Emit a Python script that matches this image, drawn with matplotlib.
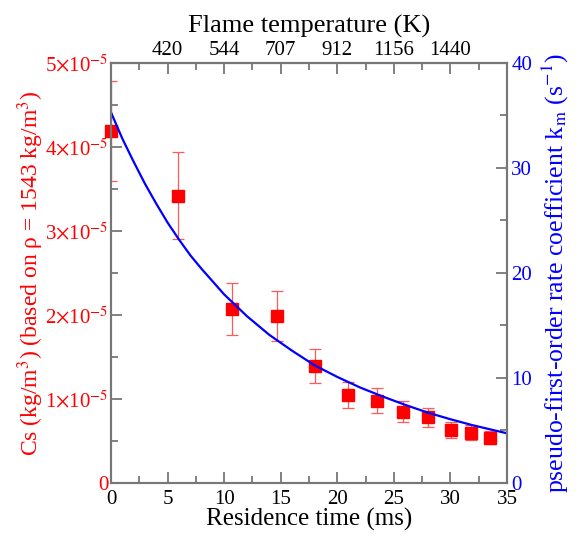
import matplotlib
matplotlib.use("Agg")
import matplotlib.pyplot as plt
from matplotlib.ticker import MultipleLocator, FixedLocator, FixedFormatter

plt.rcParams['font.family'] = ['Liberation Serif', 'DejaVu Serif']
plt.rcParams['mathtext.fontset'] = 'stix'

# measured Cs (kg/m^3) vs residence time (ms)
res_time = [0.0, 5.9, 10.7, 14.65, 18.0, 20.95, 23.5, 25.85, 28.0, 30.05, 31.8, 33.5]
cs = [4.19e-5, 3.42e-5, 2.07e-5, 1.99e-5, 1.39e-5, 1.05e-5, 0.98e-5, 0.85e-5,
      0.78e-5, 0.63e-5, 0.60e-5, 0.54e-5]
cs_err = [0.60e-5, 0.52e-5, 0.31e-5, 0.30e-5, 0.205e-5, 0.155e-5, 0.145e-5, 0.13e-5,
          0.115e-5, 0.095e-5, 0.085e-5, 0.075e-5]

# rate coefficient k_m (s^-1) curve
curve_t = [0, 1, 2, 3, 4, 5, 6, 7, 8, 10, 12, 14, 16, 18, 20, 22, 24, 26, 28, 30, 32, 35]
curve_k = [35.3, 32.8, 30.6, 28.5, 26.6, 24.8, 23.2, 21.7, 20.4, 17.96, 15.9, 14.1,
           12.6, 11.2, 10.1, 9.1, 8.24, 7.44, 6.7, 6.07, 5.49, 4.73]

# top axis: flame temperature labels
temp_pos = [0, 5, 10, 15, 20, 25, 30, 35]
temp_labels = ['', '420', '544', '707', '912', '1156', '1440', '']

cs_ticks = [0, 1e-5, 2e-5, 3e-5, 4e-5, 5e-5]
cs_labels = ['0', r'1$\times$10$^{-5}$', r'2$\times$10$^{-5}$', r'3$\times$10$^{-5}$',
             r'4$\times$10$^{-5}$', r'5$\times$10$^{-5}$']

spine_col = '#777777'

fig = plt.figure(figsize=(5.79, 5.37), dpi=100)
ax = fig.add_axes([0.1917, 0.1006, 0.684, 0.7821])
ax2 = ax.twinx()

ax.errorbar(res_time, cs, yerr=cs_err, fmt='none', ecolor=(1, 0.35, 0.35),
            elinewidth=0.9, capsize=4.5, capthick=0.9, zorder=3)
ax.plot(res_time, cs, 's', color='red', ms=8, mec='red', clip_on=False, zorder=4)
ax2.plot(curve_t, curve_k, color=(0, 0, 1), lw=1.6)

ax.set_xlim(0, 35)
ax.set_ylim(0, 5e-5)
ax2.set_ylim(0, 40)

ax.xaxis.set_major_locator(MultipleLocator(5))
ax.xaxis.set_minor_locator(MultipleLocator(2.5))
ax.yaxis.set_major_locator(FixedLocator(cs_ticks))
ax.yaxis.set_major_formatter(FixedFormatter(cs_labels))
ax.yaxis.set_minor_locator(MultipleLocator(0.5e-5))
ax2.yaxis.set_major_locator(MultipleLocator(10))
ax2.yaxis.set_minor_locator(MultipleLocator(5))

ax.tick_params(axis='x', which='both', direction='in', colors=spine_col, labelcolor='black',
               labelsize=15, pad=5)
ax.tick_params(axis='y', which='both', direction='in', colors=spine_col, labelcolor='red',
               labelsize=15, pad=2)
ax2.tick_params(axis='y', which='both', direction='in', colors=spine_col, labelcolor='blue',
                labelsize=15, pad=3)
for a in (ax, ax2):
    a.tick_params(which='major', length=8, width=1.3)
    a.tick_params(which='minor', length=5, width=1.3)
    for s in a.spines.values():
        s.set_color(spine_col)
        s.set_linewidth(1.5)

top = ax.secondary_xaxis('top')
top.set_xticks(temp_pos)
top.set_xticklabels(temp_labels)
top.xaxis.set_minor_locator(MultipleLocator(2.5))
top.tick_params(which='both', direction='in', colors=spine_col, labelcolor='black',
                labelsize=15, pad=2)
top.tick_params(which='major', length=8, width=1.3)
top.tick_params(which='minor', length=5, width=1.3)
top.spines['top'].set_color(spine_col)
top.spines['top'].set_linewidth(1.5)
top.set_xlabel('Flame temperature (K)', fontsize=19, labelpad=6)

ax.set_xlabel('Residence time (ms)', fontsize=18, labelpad=-1)
ax.set_ylabel(r'Cs (kg/m$^{3}$) (based on ρ = 1543 kg/m$^{3}$)', fontsize=17,
              color='red', labelpad=-1)
ax2.set_ylabel(r'pseudo-first-order rate coefficient k$_{\rm m}$ (s$^{-1}$)', fontsize=18.5,
               color='blue', labelpad=6)

fig.savefig('out.png', dpi=100)
